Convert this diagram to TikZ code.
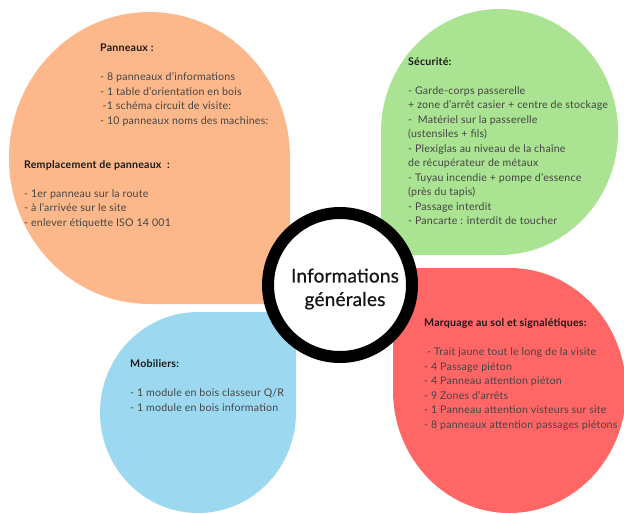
\documentclass[tikz,border=0pt]{standalone}
\usepackage{fontspec}
\setmainfont{Lato}[LetterSpace=2]
\newfontfamily\titlefont{Lato}[FakeBold=0.6,LetterSpace=1]
\definecolor{peach}{HTML}{FCB88A}
\definecolor{leaf}{HTML}{AAE391}
\definecolor{coral}{HTML}{FF6666}
\definecolor{sky}{HTML}{9CD9F1}
\definecolor{bodytxt}{HTML}{454545}
\definecolor{headtxt}{HTML}{1A1A1A}
\begin{document}
\begin{tikzpicture}[x=1pt,y=-1pt,
  blob/.style={draw=none},
  txt/.style={anchor=north west, inner sep=0pt, align=left, text=bodytxt,
    font=\fontsize{10.6}{14.5}\selectfont},
  ring/.style={circle, draw=black, line width=12pt, fill=white, minimum size=144pt, inner sep=0pt},
  titletxt/.style={align=center, inner sep=0pt, text=black!92,
    font=\titlefont\fontsize{19}{23.5}\selectfont}]
\useasboundingbox (0,0) rectangle (624,514);
% orange blob (square corner bottom-right)
\path[blob, fill=peach] (290,158) -- (290,304) -- (149.5,304)
  arc[start angle=90, end angle=360, x radius=140.5, y radius=146] -- cycle;
% green blob (square corner bottom-left)
\path[blob, fill=leaf] (381,132) -- (381,255) -- (499.5,255)
  arc[start angle=90, end angle=-180, x radius=118.5, y radius=123] -- cycle;
% red blob (square corner top-left)
\path[blob, fill=coral] (393,390.5) -- (393,268) -- (509.5,268)
  arc[start angle=-90, end angle=180, x radius=116.5, y radius=122.5] -- cycle;
% blue blob (square corner top-right)
\path[blob, fill=sky] (296,412.5) -- (296,312) -- (198,312)
  arc[start angle=-90, end angle=-360, x radius=98, y radius=100.5] -- cycle;
% centre
\node[ring] (hub) at (340,285) {};
\node[titletxt] (title) at (345,289) {Informations\\générales};
% texts
\node[txt] (panneaux) at (100,44) {{\bfseries\color{headtxt}Panneaux :}\\[14.5pt]
- 8 panneaux d'informations\\
- 1 table d'orientation en bois\\
\hspace*{2.5pt}-1 schéma circuit de visite:\\
- 10 panneaux noms des machines:};
\node[txt] (remplacement) at (24,160.2) {{\bfseries\color{headtxt}Remplacement de panneaux~~:}\\[14.5pt]
- 1er panneau sur la route\\
- à l'arrivée sur le site\\
- enlever étiquette ISO 14 001};
\node[txt] (securite) at (408,57) {{\bfseries\color{headtxt}Sécurité:}\\[14.5pt]
- Garde-corps passerelle\\
+ zone d'arrêt casier + centre de stockage\\
-~~Matériel sur la passerelle\\
(ustensiles + fils)\\
- Plexiglas au niveau de la chaîne\\
de récupérateur de métaux\\
- Tuyau incendie + pompe d'essence\\
(près du tapis)\\
- Passage interdit\\
- Pancarte : interdit de toucher};
\node[txt] (marquage) at (424,318.5) {{\bfseries\color{headtxt}Marquage au sol et signalétiques:}\\[14.5pt]
\hspace*{3pt}- Trait jaune tout le long de la visite\\
- 4 Passage piéton\\
- 4 Panneau attention piéton\\
- 9 Zones d'arrêts\\
- 1 Panneau attention visteurs sur site\\
- 8 panneaux attention passages piétons};
\node[txt] (mobiliers) at (130,359.5) {{\bfseries\color{headtxt}Mobiliers:}\\[14.5pt]
- 1 module en bois classeur Q/R\\
- 1 module en bois information};
\end{tikzpicture}
\end{document}
